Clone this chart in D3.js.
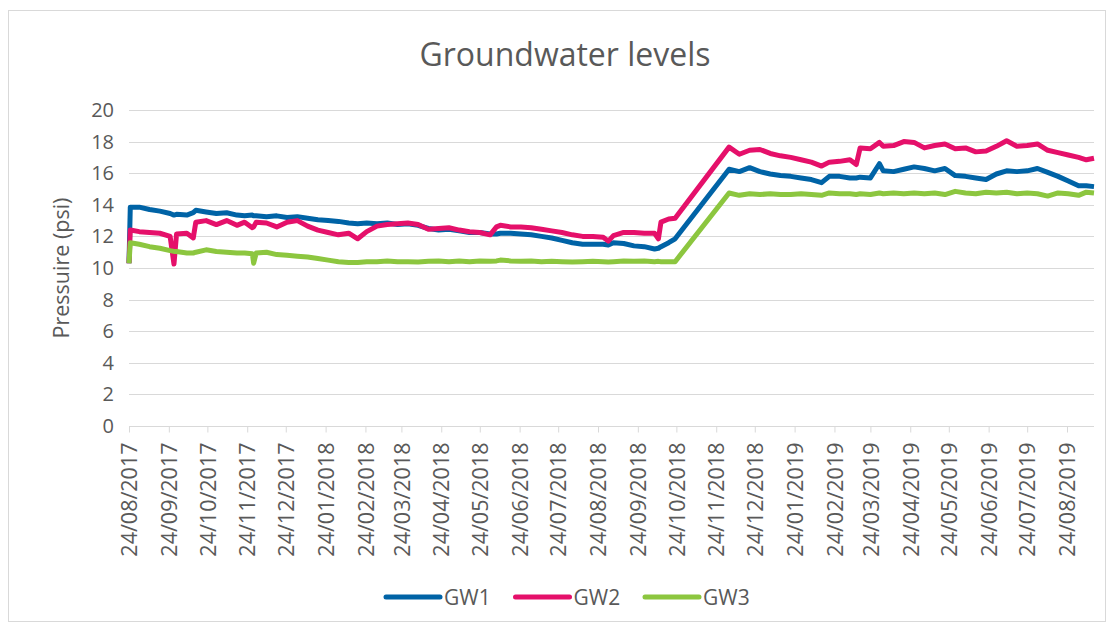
<!DOCTYPE html>
<html>
<head>
<meta charset="utf-8">
<script src="https://cdn.jsdelivr.net/npm/d3@7"></script>
<style>
    body { margin: 0; background: #fff; }
    svg { font-family: 'Open Sans', sans-serif; }
    .grid line { stroke: #d9d9d9; stroke-width: 1; }
    .label { fill: #595959; }
</style>
</head>
<body>
<div id="chart"></div>
<script>
const dates = [
    '2017-08-24', '2017-08-25', '2017-09-01', '2017-09-09', '2017-09-17', '2017-09-25', '2017-09-28', '2017-09-30', '2017-10-08', '2017-10-13',
    '2017-10-15', '2017-10-23', '2017-10-31', '2017-11-08', '2017-11-16', '2017-11-22', '2017-11-28', '2017-11-29', '2017-12-01', '2017-12-09',
    '2017-12-17', '2017-12-25', '2018-01-02', '2018-01-10', '2018-01-18', '2018-01-26', '2018-02-03', '2018-02-11', '2018-02-18', '2018-02-25',
    '2018-03-05', '2018-03-13', '2018-03-21', '2018-03-29', '2018-04-06', '2018-04-14', '2018-04-22', '2018-04-30', '2018-05-08', '2018-05-16',
    '2018-05-24', '2018-06-01', '2018-06-06', '2018-06-09', '2018-06-17', '2018-06-25', '2018-07-03', '2018-07-11', '2018-07-19', '2018-07-27',
    '2018-08-04', '2018-08-12', '2018-08-20', '2018-08-28', '2018-09-01', '2018-09-05', '2018-09-13', '2018-09-21', '2018-09-29', '2018-10-07',
    '2018-10-10', '2018-10-12', '2018-10-18', '2018-10-23', '2018-12-04', '2018-12-12', '2018-12-20', '2018-12-28', '2019-01-05', '2019-01-13',
    '2019-01-21', '2019-01-29', '2019-02-06', '2019-02-14', '2019-02-20', '2019-02-28', '2019-03-08', '2019-03-13', '2019-03-16', '2019-03-24',
    '2019-03-31', '2019-04-03', '2019-04-11', '2019-04-19', '2019-04-27', '2019-05-05', '2019-05-13', '2019-05-21', '2019-05-29', '2019-06-06',
    '2019-06-14', '2019-06-22', '2019-06-30', '2019-07-08', '2019-07-16', '2019-07-24', '2019-08-01', '2019-08-09', '2019-08-17', '2019-08-25',
    '2019-09-02', '2019-09-08', '2019-09-14',
];

const gw1 = [
    10.3, 13.85, 13.85, 13.7, 13.6, 13.45, 13.35, 13.4, 13.35, 13.5,
    13.65, 13.55, 13.45, 13.5, 13.35, 13.3, 13.35, 13.3, 13.3, 13.25,
    13.3, 13.2, 13.25, 13.15, 13.05, 13.0, 12.95, 12.85, 12.8, 12.85,
    12.8, 12.85, 12.75, 12.8, 12.7, 12.5, 12.4, 12.45, 12.35, 12.25,
    12.25, 12.15, 12.15, 12.2, 12.2, 12.15, 12.1, 12.0, 11.9, 11.75,
    11.6, 11.5, 11.5, 11.5, 11.45, 11.6, 11.55, 11.4, 11.35, 11.2,
    11.25, 11.35, 11.6, 11.85, 16.25, 16.1, 16.35, 16.1, 15.95, 15.85,
    15.8, 15.7, 15.6, 15.4, 15.8, 15.8, 15.7, 15.7, 15.75, 15.7,
    16.6, 16.15, 16.1, 16.25, 16.4, 16.3, 16.15, 16.3, 15.85, 15.8,
    15.7, 15.6, 15.95, 16.15, 16.1, 16.15, 16.3, 16.05, 15.8, 15.5,
    15.2, 15.2, 15.15,
];

const gw2 = [
    10.3, 12.4, 12.3, 12.25, 12.2, 12.0, 10.25, 12.15, 12.2, 11.9,
    12.9, 13.0, 12.75, 13.0, 12.7, 12.9, 12.55, 12.6, 12.9, 12.85,
    12.6, 12.9, 13.0, 12.65, 12.4, 12.25, 12.1, 12.2, 11.85, 12.3,
    12.65, 12.75, 12.8, 12.85, 12.75, 12.45, 12.5, 12.55, 12.4, 12.3,
    12.25, 12.1, 12.6, 12.7, 12.6, 12.6, 12.55, 12.45, 12.35, 12.25,
    12.1, 12.0, 12.0, 11.95, 11.7, 12.05, 12.25, 12.25, 12.2, 12.2,
    11.85, 12.9, 13.1, 13.15, 17.65, 17.2, 17.45, 17.5, 17.25, 17.1,
    17.0, 16.85, 16.7, 16.45, 16.7, 16.75, 16.85, 16.55, 17.6, 17.55,
    17.95, 17.7, 17.75, 18.0, 17.95, 17.6, 17.75, 17.85, 17.55, 17.6,
    17.35, 17.4, 17.7, 18.05, 17.7, 17.75, 17.85, 17.45, 17.3, 17.15,
    17.0, 16.85, 16.95,
];

const gw3 = [
    10.3, 11.6, 11.5, 11.35, 11.25, 11.1, 11.05, 11.05, 10.95, 10.95,
    11.0, 11.15, 11.05, 11.0, 10.95, 10.95, 10.9, 10.3, 10.95, 11.0,
    10.85, 10.8, 10.75, 10.7, 10.6, 10.5, 10.4, 10.35, 10.35, 10.4,
    10.4, 10.45, 10.4, 10.4, 10.38, 10.42, 10.45, 10.4, 10.45, 10.4,
    10.45, 10.42, 10.45, 10.5, 10.45, 10.42, 10.45, 10.4, 10.42, 10.4,
    10.38, 10.4, 10.42, 10.4, 10.38, 10.4, 10.45, 10.42, 10.45, 10.4,
    10.42, 10.4, 10.4, 10.4, 14.75, 14.6, 14.7, 14.65, 14.7, 14.65,
    14.65, 14.7, 14.65, 14.6, 14.75, 14.7, 14.7, 14.65, 14.7, 14.65,
    14.75, 14.7, 14.75, 14.7, 14.75, 14.7, 14.75, 14.65, 14.85, 14.75,
    14.7, 14.8, 14.75, 14.8, 14.7, 14.75, 14.7, 14.55, 14.75, 14.7,
    14.6, 14.8, 14.75,
];

const tickLabels = [
    '24/08/2017', '24/09/2017', '24/10/2017', '24/11/2017', '24/12/2017',
    '24/01/2018', '24/02/2018', '24/03/2018', '24/04/2018', '24/05/2018',
    '24/06/2018', '24/07/2018', '24/08/2018', '24/09/2018', '24/10/2018',
    '24/11/2018', '24/12/2018', '24/01/2019', '24/02/2019', '24/03/2019',
    '24/04/2019', '24/05/2019', '24/06/2019', '24/07/2019', '24/08/2019',
];

const yTicks = [0, 2, 4, 6, 8, 10, 12, 14, 16, 18, 20];

const seriesNames = ['GW1', 'GW2', 'GW3'];
const seriesColors = ['#0063a6', '#e5106a', '#8cc63f'];

const width = 1117;
const height = 627;
const margin = { top: 110, right: 23, bottom: 201, left: 129 };
const plotW = width - margin.left - margin.right;
const plotH = height - margin.top - margin.bottom;

const parseDate = d3.timeParse('%Y-%m-%d');
const parseTick = d3.timeParse('%d/%m/%Y');

const series = [gw1, gw2, gw3].map((values, i) => ({
    name: seriesNames[i],
    color: seriesColors[i],
    points: values.map((v, j) => ({ date: parseDate(dates[j]), value: v })),
}));

const svg = d3.select('#chart')
    .append('svg')
    .attr('width', width)
    .attr('height', height);

svg.append('rect')
    .attr('x', 8.5)
    .attr('y', 10.5)
    .attr('width', 1097)
    .attr('height', 611)
    .attr('fill', 'none')
    .attr('stroke', '#d9d9d9');

svg.append('text')
    .attr('class', 'label')
    .attr('x', 565)
    .attr('y', 66)
    .attr('text-anchor', 'middle')
    .attr('font-size', 32)
    .text('Groundwater levels');

const g = svg.append('g')
    .attr('transform', `translate(${margin.left}, ${margin.top})`);

const x = d3.scaleTime()
    .domain([parseDate(dates[0]), parseDate(dates[dates.length - 1])])
    .range([0, plotW]);

const y = d3.scaleLinear()
    .domain([0, 20])
    .range([plotH, 0]);

g.append('g')
    .attr('class', 'grid')
    .selectAll('line')
    .data(yTicks)
    .enter()
    .append('line')
    .attr('x1', 0)
    .attr('x2', plotW)
    .attr('y1', d => Math.round(y(d)) + 0.5)
    .attr('y2', d => Math.round(y(d)) + 0.5);

g.append('g')
    .attr('transform', `translate(-15, 0)`)
    .call(d3.axisLeft(y).tickValues(yTicks).tickSize(0).tickPadding(0))
    .call(a => a.select('.domain').remove())
    .selectAll('text')
    .attr('class', 'label')
    .attr('font-size', 20)
    .attr('font-family', 'Open Sans, sans-serif');

const xAxis = g.append('g')
    .attr('transform', `translate(0, ${Math.round(plotH) + 0.5})`)
    .call(d3.axisBottom(x)
        .tickValues(tickLabels.map(parseTick))
        .tickFormat(d3.timeFormat('%d/%m/%Y'))
        .tickSize(6)
        .tickPadding(0));

xAxis.select('.domain')
    .attr('stroke', '#d9d9d9')
    .attr('d', `M0,0H${plotW}`);
xAxis.selectAll('.tick line').attr('stroke', '#d9d9d9');
xAxis.selectAll('.tick text')
    .attr('class', 'label')
    .attr('font-size', 21.5)
    .attr('font-family', 'Open Sans, sans-serif')
    .attr('text-anchor', 'end')
    .attr('transform', 'translate(0, 16) rotate(-90)')
    .attr('x', 0)
    .attr('y', 0)
    .attr('dy', '0.36em');

svg.append('text')
    .attr('class', 'label')
    .attr('transform', `translate(61, ${margin.top + plotH / 2}) rotate(-90)`)
    .attr('text-anchor', 'middle')
    .attr('dy', '0.36em')
    .attr('font-size', 21.5)
    .text('Pressuire (psi)');

const line = d3.line()
    .x(d => x(d.date))
    .y(d => y(d.value));

g.selectAll('.series')
    .data(series)
    .enter()
    .append('path')
    .attr('class', 'series')
    .attr('d', d => line(d.points))
    .attr('fill', 'none')
    .attr('stroke', d => d.color)
    .attr('stroke-width', 5)
    .attr('stroke-linejoin', 'round');

const legend = svg.append('g')
    .selectAll('g')
    .data(series)
    .enter()
    .append('g')
    .attr('transform', (d, i) => `translate(${386 + i * 129.5}, 597)`);

legend.append('line')
    .attr('x1', 0)
    .attr('x2', 54)
    .attr('stroke', d => d.color)
    .attr('stroke-width', 5)
    .attr('stroke-linecap', 'round');

legend.append('text')
    .attr('class', 'label')
    .attr('x', 58)
    .attr('dy', '0.36em')
    .attr('font-size', 21)
    .text(d => d.name);
</script>
</body>
</html>
